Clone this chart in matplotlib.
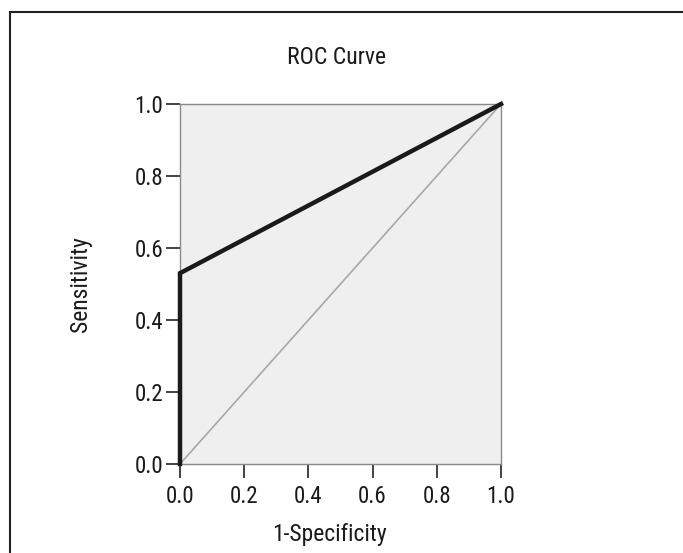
import matplotlib
matplotlib.use("Agg")
import matplotlib.pyplot as plt
from matplotlib.lines import Line2D
from matplotlib import font_manager as fm

names = sorted({f.name for f in fm.fontManager.ttflist})
cands = ['Liberation Sans Narrow', 'DejaVu Sans Condensed', 'Roboto Condensed',
         'Open Sans Condensed', 'Noto Sans Condensed']
fam = [c for c in cands if c in names] + ['DejaVu Sans']
plt.rcParams['font.family'] = fam
plt.rcParams['font.stretch'] = 'condensed'

fpr = [0.0, 0.0, 1.0]
tpr = [0.0, 0.53, 1.0]
ref_x = [0.0, 1.0]
ref_y = [0.0, 1.0]
ticks = [0.0, 0.2, 0.4, 0.6, 0.8, 1.0]
tick_labels = ["0.0", "0.2", "0.4", "0.6", "0.8", "1.0"]

W, H = 683, 553
fig = plt.figure(figsize=(W / 100, H / 100), dpi=100)
fig.patch.set_facecolor('white')

fig.add_artist(Line2D([10 / W, 1.0], [1 - 12 / H, 1 - 12 / H], color='#222222', lw=1.5))
fig.add_artist(Line2D([10 / W, 10 / W], [0.0, 1 - 12 / H], color='#222222', lw=1.5))

ax = fig.add_axes([180 / W, 1 - 464 / H, 321 / W, 360 / H])
ax.set_facecolor('#efefef')
ax.plot(ref_x, ref_y, color='#a8a8a8', lw=1.2, zorder=2)
ax.plot(fpr, tpr, color='#1a1a1a', lw=3.2, solid_joinstyle='miter', zorder=3, clip_on=False)
ax.set_xlim(0, 1)
ax.set_ylim(0, 1)
ax.set_xticks(ticks)
ax.set_xticklabels(tick_labels)
ax.set_yticks(ticks)
ax.set_yticklabels(tick_labels)
for s in ax.spines.values():
    s.set_color('#8a8a8a')
    s.set_linewidth(1.0)
ax.tick_params(axis='both', length=10, width=1.2, color='#222222', labelsize=16.5,
               labelcolor='#1a1a1a')
ax.tick_params(axis='x', pad=5)
ax.tick_params(axis='y', pad=2)
ax.set_xlabel('1-Specificity', fontsize=17, color='#1a1a1a', labelpad=11)
ax.xaxis.label.set_x(0.467)
ax.set_ylabel('Sensitivity', fontsize=17, color='#1a1a1a', labelpad=31)
t = ax.set_title('ROC Curve', fontsize=17, color='#1a1a1a', pad=29)
t.set_x(0.488)

fig.savefig('out.png', dpi=100)
